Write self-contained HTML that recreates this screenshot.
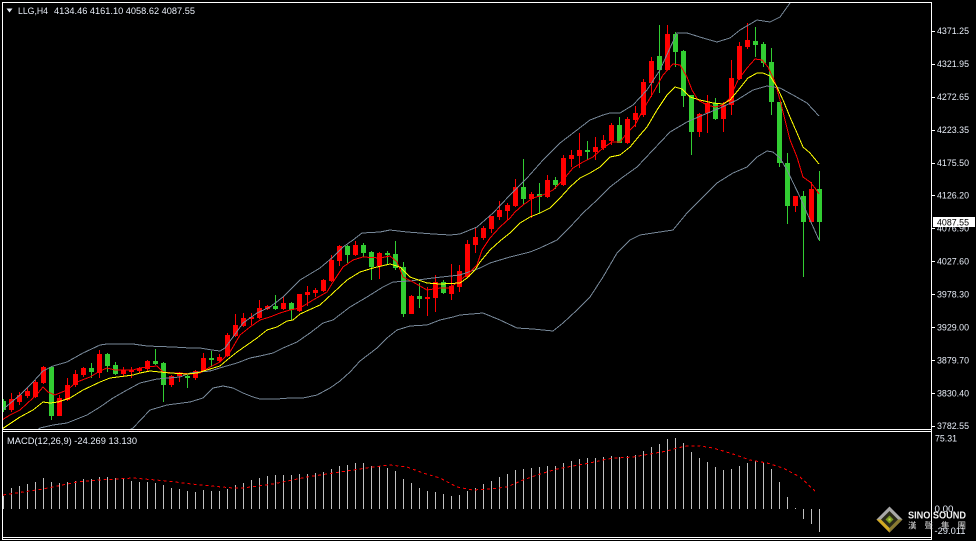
<!DOCTYPE html>
<html><head><meta charset="utf-8">
<style>
html,body{margin:0;padding:0;background:#000;width:976px;height:541px;overflow:hidden}
svg{display:block}
text{font-family:"Liberation Sans","Noto Sans CJK TC",sans-serif;fill:#e8eef8;font-size:9px}
</style></head><body>
<svg id="svg" width="976" height="541" viewBox="0 0 976 541" xmlns="http://www.w3.org/2000/svg" shape-rendering="crispEdges">
<defs>
<clipPath id="cm"><rect x="3" y="3" width="928" height="426"/></clipPath>
<clipPath id="cd"><rect x="3" y="432" width="928" height="105"/></clipPath>
</defs>
<rect x="0" y="0" width="976" height="541" fill="#000"/>

<g id="candles" clip-path="url(#cm)"></g>

<g clip-path="url(#cm)" fill="none" stroke-width="1">
<polyline stroke="#778899" points="2,410 7,406 20,395 33,382 43,371 53,366 67,362 83,353 100,345 107,344 133,344 147,346 173,347 190,348 200,348 212,350 220,351 225,348 233,337 243,323 257,313 270,307 283,297 293,287 300,280 320,268 333,257 343,247 353,240 362,233 380,232 390,230 407,232 433,234 450,235 460,234 477,227 493,213 510,195 527,178 543,160 560,143 577,130 590,120 603,115 610,113 620,113 633,105 647,90 660,70 670,48 677,33 687,33 703,38 717,42 730,38 740,30 757,20 770,22 780,17 790,3 795,-5"/>
<polyline stroke="#778899" points="36,431 40,428 53,425 67,423 87,415 100,407 113,398 127,390 140,383 157,379 180,377 190,373 210,371 223,367 237,363 250,358 260,356 273,353 283,348 297,342 310,333 323,323 333,320 350,307 367,297 383,287 393,282 410,281 433,278 460,275 480,268 490,263 510,257 530,252 540,248 557,240 570,227 583,213 597,200 610,187 623,177 637,167 653,150 670,132 687,122 703,115 720,108 737,100 753,90 767,86 780,88 793,95 807,103 819,116"/>
<polyline stroke="#778899" points="125,432 133,428 150,410 167,405 190,402 203,398 213,388 223,386 233,388 243,393 253,397 260,399 277,399 290,398 303,398 317,395 330,388 340,381 350,372 360,361 377,348 387,338 397,330 410,326 427,325 440,320 453,317 460,315 483,313 500,320 517,328 533,329 553,331 563,323 577,310 590,297 603,277 617,253 630,240 640,235 653,233 673,230 687,213 700,200 717,183 733,173 747,167 757,157 767,151 773,152 780,158 787,170 800,197 810,220 819,240"/>
<polyline stroke="#ff0000" points="2,420 10,415 20,410 33,398 38,393 43,387 48,392 55,395 67,390 77,382 90,377 100,371 107,368 115,370 133,370 140,368 147,367 157,366 163,372 172,373 180,373 190,374 200,373 210,367 220,362 230,352 240,335 250,327 260,320 270,317 280,313 290,310 300,308 313,300 327,292 333,282 343,267 353,260 363,257 380,258 390,256 397,262 403,277 413,282 427,290 440,288 450,288 460,280 467,275 477,265 482,250 490,238 500,227 510,218 515,212 523,205 533,198 543,195 553,190 563,180 573,168 583,162 593,157 603,148 612,142 620,142 627,133 635,125 643,110 653,93 663,75 673,64 680,65 687,77 692,90 698,100 707,105 715,107 723,105 730,98 738,80 747,68 755,59 762,60 768,67 775,82 780,100 785,120 790,140 797,157 803,177 810,182 815,188 819,194"/>
<polyline stroke="#ffff00" points="2,429 20,417 33,410 43,402 50,403 58,402 70,398 83,390 100,382 110,378 133,375 140,373 150,371 160,372 170,373 187,374 197,373 210,369 220,366 227,360 237,352 247,345 257,338 267,330 277,327 287,321 293,320 300,314 320,305 333,293 347,280 360,272 373,268 390,264 400,267 410,277 427,283 440,284 460,283 467,278 475,270 480,262 490,250 500,241 510,233 520,223 530,217 540,213 550,208 560,198 570,187 580,178 590,173 600,167 610,157 620,155 630,147 640,135 647,127 657,110 667,95 675,87 682,89 690,97 700,100 713,103 723,104 730,100 740,88 748,78 757,73 763,73 770,76 777,87 783,100 790,117 797,133 803,147 810,153 819,164"/>
</g>

<g id="macd" clip-path="url(#cd)"></g>
<g clip-path="url(#cd)" fill="none">
<polyline stroke="#ff0000" stroke-dasharray="3 3" points="3,495 43,489 77,482 100,480 133,478 167,481 200,485 233,488 243,488 273,484 307,477 340,472 373,467 390,465 407,467 423,473 440,478 457,487 473,490 490,489 507,487 523,480 540,474 557,469 573,466 590,463 607,459 617,458 633,457 650,454 667,451 677,448 687,446 700,446 713,448 733,454 750,460 767,463 783,468 800,477 815,491"/>
</g>

<!-- frame -->
<g fill="#ffffff">
<rect x="2" y="2" width="930" height="1"/>
<rect x="2" y="2" width="1" height="538"/>
<rect x="931" y="2" width="1" height="538"/>
<rect x="2" y="429" width="930" height="1"/>
<rect x="2" y="431" width="930" height="1"/>
<rect x="2" y="537" width="930" height="1"/>
<rect x="2" y="539" width="930" height="1"/>
<rect x="932" y="31" width="3" height="1"/>
<rect x="932" y="64" width="3" height="1"/>
<rect x="932" y="97" width="3" height="1"/>
<rect x="932" y="130" width="3" height="1"/>
<rect x="932" y="163" width="3" height="1"/>
<rect x="932" y="195" width="3" height="1"/>
<rect x="932" y="228" width="3" height="1"/>
<rect x="932" y="261" width="3" height="1"/>
<rect x="932" y="294" width="3" height="1"/>
<rect x="932" y="327" width="3" height="1"/>
<rect x="932" y="360" width="3" height="1"/>
<rect x="932" y="393" width="3" height="1"/>
<rect x="932" y="426" width="3" height="1"/>
</g>

<!-- header -->
<polygon points="6.5,8.5 12.5,8.5 9.5,12.5" fill="#e8eef8" shape-rendering="auto"/>
<text x="18" y="14" textLength="30" lengthAdjust="spacingAndGlyphs">LLG,H4</text>
<text x="54" y="14" textLength="141" lengthAdjust="spacingAndGlyphs">4134.46 4161.10 4058.62 4087.55</text>

<!-- price axis -->
<g>
<text x="937" y="34" textLength="32" lengthAdjust="spacingAndGlyphs">4371.25</text>
<text x="937" y="67" textLength="32" lengthAdjust="spacingAndGlyphs">4321.95</text>
<text x="937" y="100" textLength="32" lengthAdjust="spacingAndGlyphs">4272.65</text>
<text x="937" y="133" textLength="32" lengthAdjust="spacingAndGlyphs">4223.35</text>
<text x="937" y="166" textLength="32" lengthAdjust="spacingAndGlyphs">4175.50</text>
<text x="937" y="198.5" textLength="32" lengthAdjust="spacingAndGlyphs">4126.20</text>
<text x="937" y="231.5" textLength="32" lengthAdjust="spacingAndGlyphs">4076.90</text>
<text x="937" y="264.5" textLength="32" lengthAdjust="spacingAndGlyphs">4027.60</text>
<text x="937" y="297.5" textLength="32" lengthAdjust="spacingAndGlyphs">3978.30</text>
<text x="937" y="330.5" textLength="32" lengthAdjust="spacingAndGlyphs">3929.00</text>
<text x="937" y="363.5" textLength="32" lengthAdjust="spacingAndGlyphs">3879.70</text>
<text x="937" y="396.5" textLength="32" lengthAdjust="spacingAndGlyphs">3830.40</text>
<text x="937" y="429" textLength="32" lengthAdjust="spacingAndGlyphs">3782.55</text>
<rect x="933" y="217" width="42" height="10" fill="#ffffff"/>
<text x="937" y="225.3" textLength="32" lengthAdjust="spacingAndGlyphs" style="fill:#000">4087.55</text>
</g>

<!-- MACD labels -->
<text x="7" y="444" textLength="130" lengthAdjust="spacingAndGlyphs">MACD(12,26,9) -24.269 13.130</text>
<text x="935" y="441.5" textLength="22" lengthAdjust="spacingAndGlyphs">75.31</text>
<text x="934.5" y="511.8" textLength="19" lengthAdjust="spacingAndGlyphs">0.00</text>
<text x="934.5" y="534" textLength="31" lengthAdjust="spacingAndGlyphs">-29.011</text>

<!-- logo -->
<g shape-rendering="auto">
<polygon points="889.5,506.5 902.5,519.5 889.5,532.5 876.5,519.5" fill="#a8a8a8"/>
<polygon points="876.5,519.5 889.5,532.5 889.5,528 881,519.5" fill="#d4aa20"/>
<polygon points="889.5,532.5 902.5,519.5 898,519.5 889.5,528" fill="#8a7a30"/>
<polygon points="889.5,511 898,519.5 889.5,528 881,519.5" fill="#2a2a18"/>
<polygon points="889.5,515.5 893.5,519.5 889.5,523.5 885.5,519.5" fill="#7a9a20"/>
<rect x="888.5" y="518.5" width="2" height="2" fill="#c8d850"/>
</g>
<text x="908" y="518.5" textLength="58" lengthAdjust="spacingAndGlyphs" style="font-weight:bold;font-size:10.5px;fill:#f2f2f2">SINO SOUND</text>
<text x="908" y="528.5" textLength="58" lengthAdjust="spacing" style="font-size:8.5px;fill:#d8d8d8;font-family:'Noto Sans CJK TC','Noto Sans CJK SC',sans-serif">漢聲集團</text>
</svg>
<script>
(function(){
var NS="http://www.w3.org/2000/svg";
var D="g,401,410,399,412;r,399,410,393,412;r,395,402,392,405;r,391,396,388,398;r,382,397,380,398;r,367,383,366,384;g,367,416,366,420;r,398,416,395,416;r,385,400,378,401;r,374,385,370,387;r,368,375,367,377;g,368,372,363,378;r,354,373,350,378;g,354,366,353,372;g,365,374,362,375;r,370,374,367,377;r,370,372,367,378;r,368,371,367,373;r,361,369,360,372;g,361,364,349,365;g,363,385,362,402;r,376,385,375,387;r,373,376,372,382;g,376,378,375,388;r,371,378,370,380;r,358,371,353,371;g,358,360,351,367;r,357,361,354,362;r,335,356,333,357;r,325,336,314,337;r,318,326,313,327;r,317,319,313,325;r,308,318,300,319;r,306,309,305,310;g,306,309,295,310;r,303,309,296,310;g,303,310,302,320;r,294,311,294,312;r,292,295,286,306;r,290,293,288,297;r,280,291,279,292;r,260,281,255,282;r,246,261,245,266;g,246,255,245,263;r,245,255,241,256;g,245,253,243,257;g,252,267,251,280;r,253,266,252,279;g,253,255,251,265;g,254,268,241,270;g,267,314,262,317;r,296,314,295,314;g,296,299,283,308;r,297,299,287,316;r,282,298,275,312;g,282,293,280,294;r,286,294,264,300;r,271,287,265,292;r,244,277,240,277;r,237,245,227,253;r,228,238,226,240;r,216,229,216,233;r,210,217,201,220;r,205,211,203,220;r,187,206,179,207;g,187,199,159,205;r,194,199,192,218;g,194,197,183,213;r,180,197,175,198;g,180,185,177,189;r,158,185,155,186;r,155,159,150,167;r,150,156,133,168;g,150,152,141,160;r,147,152,137,160;r,140,148,135,150;r,125,141,123,145;g,125,143,117,143;r,119,143,117,144;r,113,120,106,127;r,82,115,79,117;r,61,83,57,97;g,56,70,25,93;r,34,70,25,70;g,34,52,32,67;g,51,96,50,107;g,95,132,95,155;r,114,132,113,137;r,103,113,95,133;g,103,119,98,120;r,105,119,102,132;r,78,105,60,115;r,46,79,42,80;r,40,47,23,49;g,41,45,27,57;g,44,63,42,67;g,62,102,48,115;g,102,163,102,167;g,163,206,153,224;r,196,206,196,212;g,196,222,191,277;r,189,222,182,222;g,189,222,171,241";
var g=document.getElementById("candles");
function R(p,x,y,w,h,c){var e=document.createElementNS(NS,"rect");e.setAttribute("x",x);e.setAttribute("y",y);e.setAttribute("width",w);e.setAttribute("height",Math.max(1,h));e.setAttribute("fill",c);p.appendChild(e);}
D.split(";").forEach(function(t,k){var a=t.split(",");var c=a[0]=="g"?"#32cd32":"#ff0000";
R(g,3+8*k,+a[3],1,a[4]-a[3],c);R(g,1+8*k,+a[1],5,a[2]-a[1],c);});
var M=[495.7,488.3,486,484,481.7,477.7,482,483.3,482,480.7,479,479,476.7,476.7,478,479,481,481.7,482,483.3,485.3,488,489,491,492,490,491,490.7,488.7,485,483,480,477.7,475.7,474.7,474.7,474.7,473.7,473.7,472.7,471.7,468.7,465.7,464.7,462.7,462.7,465.7,465.7,467.7,470.7,478.7,482.7,487.7,490.7,491.7,493.7,495.7,494.7,490.7,487.7,483.7,480.7,476.7,473.7,469.7,468.7,467.7,466.7,465.7,465.7,462.7,460.7,458.7,457.7,457.7,456.7,455.7,456.7,455.7,454.7,450.7,446.7,443.7,438.7,437.7,442.7,451.7,457.7,461.7,466.7,469.7,468.7,465.7,462.7,460.7,462.7,468.7,481.7,496.7,507.5,-519,-524,-532];
var m=document.getElementById("macd");var Z=509;
M.forEach(function(v,k){if(v>0){var t=Math.round(v);R(m,3+8*k,t,1,Z-t,"#c0c0c0");}else{var b=-v;R(m,3+8*k,Z,1,b-Z,"#c0c0c0");}});
})();
</script>
</body></html>
